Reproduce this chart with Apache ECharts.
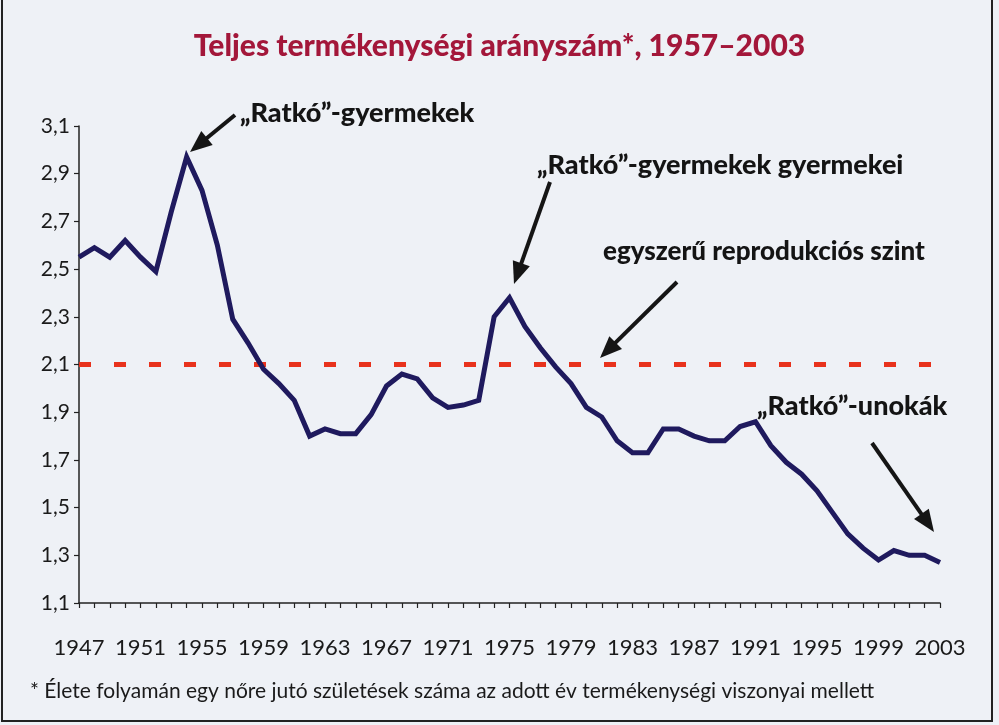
<!DOCTYPE html>
<html><head><meta charset="utf-8">
<script src="https://cdn.jsdelivr.net/npm/echarts@6/dist/echarts.min.js"></script>
<style>html,body{margin:0;padding:0;background:#eef1f6}#c{width:999px;height:725px}</style>
</head><body><div id="c"></div>
<script>
const years = ['1947','1948','1949','1950','1951','1952','1953','1954','1955','1956',
  '1957','1958','1959','1960','1961','1962','1963','1964','1965','1966',
  '1967','1968','1969','1970','1971','1972','1973','1974','1975','1976',
  '1977','1978','1979','1980','1981','1982','1983','1984','1985','1986',
  '1987','1988','1989','1990','1991','1992','1993','1994','1995','1996',
  '1997','1998','1999','2000','2001','2002','2003'];
const tfr = [2.55,2.59,2.55,2.62,2.55,2.49,2.74,2.97,2.83,2.60,
  2.29,2.19,2.08,2.02,1.95,1.80,1.83,1.81,1.81,1.89,
  2.01,2.06,2.04,1.96,1.92,1.93,1.95,2.30,2.38,2.26,
  2.17,2.09,2.02,1.92,1.88,1.78,1.73,1.73,1.83,1.83,
  1.80,1.78,1.78,1.84,1.86,1.76,1.69,1.64,1.57,1.48,
  1.39,1.33,1.28,1.32,1.30,1.30,1.27];
const xLabelYears = ['1947','1951','1955','1959','1963','1967','1971','1975','1979','1983','1987','1991','1995','1999','2003'];
const yTickLabels = ['1,1','1,3','1,5','1,7','1,9','2,1','2,3','2,5','2,7','2,9','3,1'];
const replacementLevel = 2.1;
const titleText = 'Teljes termékenységi arányszám*, 1957–2003';
const footnoteText = '* Élete folyamán egy nőre jutó születések száma az adott év termékenységi viszonyai mellett';
const noteTexts = ['„Ratkó”-gyermekek', '„Ratkó”-gyermekek gyermekei', 'egyszerű reprodukciós szint', '„Ratkó”-unokák'];

const FONT = 'Lato, "Open Sans", sans-serif';
const chart = echarts.init(document.getElementById('c'), null, {renderer: 'canvas'});

// annotation layout (pixels): [x, y] for text, arrows [tailX, tailY, tipX, tipY]
const notePos = [[240, 113], [537, 165], [603, 252], [757, 406]];
const noteSizes = [27, 27, 26, 27];
const arrows = [[235, 115, 190, 152], [550, 182, 514, 284], [677, 282, 600, 358], [872, 443, 934, 532]];

function arrowGraphics(a) {
  const [x1, y1, x2, y2] = a;
  const dx = x2 - x1, dy = y2 - y1, L = Math.hypot(dx, dy);
  const ux = dx / L, uy = dy / L;
  const hl = 22, hw = 9;
  const bx = x2 - ux * hl, by = y2 - uy * hl;
  return [
    {type: 'line', shape: {x1: x1, y1: y1, x2: bx + ux * 2, y2: by + uy * 2},
     style: {stroke: '#151515', lineWidth: 4}, z: 100},
    {type: 'polygon', shape: {points: [[x2, y2], [bx - uy * hw, by + ux * hw], [bx + uy * hw, by - ux * hw]]},
     style: {fill: '#151515'}, z: 100}
  ];
}

const graphics = [];
graphics.push({type: 'rect', shape: {x: 2, y: -4, width: 990, height: 725}, style: {fill: 'none', stroke: '#222', lineWidth: 2}, z: 0, silent: true});
notePos.forEach((p, i) => {
  graphics.push({type: 'text', x: p[0], y: p[1], style: {text: noteTexts[i], font: '900 ' + noteSizes[i] + 'px ' + FONT, fill: '#141414', verticalAlign: 'middle'}, z: 100});
});
arrows.forEach(a => arrowGraphics(a).forEach(g => graphics.push(g)));

chart.setOption({
  backgroundColor: '#eef1f6',
  animation: false,
  title: {text: titleText, left: 'center', top: 26,
    textStyle: {fontFamily: FONT, fontWeight: 900, fontSize: 30, color: '#a3173a'}},
  grid: {left: 79, right: 59, top: 126, bottom: 122, containLabel: false},
  xAxis: {
    type: 'category', data: years, boundaryGap: false,
    axisLine: {lineStyle: {color: '#222', width: 1.5}},
    axisTick: {show: true, interval: 0, length: 5, lineStyle: {color: '#222', width: 1.2}},
    axisLabel: {interval: 0, margin: 34, fontFamily: FONT, fontSize: 22, color: '#1a1a1a',
      formatter: v => xLabelYears.indexOf(v) >= 0 ? v : ''},
    splitLine: {show: false}
  },
  yAxis: {
    type: 'value', min: 1.1, max: 3.1, interval: 0.2,
    axisLine: {show: true, lineStyle: {color: '#222', width: 1.5}},
    axisTick: {show: true, length: 5, lineStyle: {color: '#222', width: 1.2}},
    axisLabel: {margin: 9, fontFamily: FONT, fontSize: 21, color: '#1a1a1a',
      formatter: v => yTickLabels[Math.round((v - 1.1) / 0.2)]},
    splitLine: {show: false}
  },
  series: [{
    type: 'line', data: tfr, symbol: 'none',
    lineStyle: {color: '#1f1a5e', width: 5, join: 'miter'},
    z: 5,
    markLine: {
      silent: true, symbol: 'none', label: {show: false},
      lineStyle: {color: '#e8321c', width: 5, type: [12, 23]},
      data: [{yAxis: replacementLevel}]
    }
  }],
  graphic: graphics.concat([
    {type: 'text', left: 30, top: 681, style: {text: footnoteText, font: '21px ' + FONT, fill: '#1a1a1a'}, z: 100}
  ])
});
</script></body></html>
